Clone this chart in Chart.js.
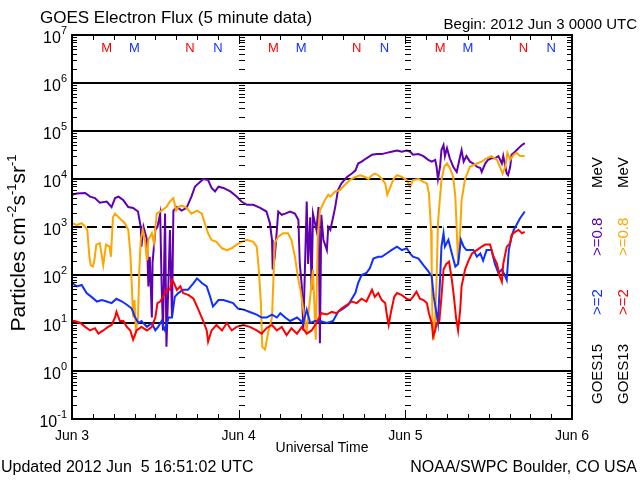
<!DOCTYPE html>
<html>
<head>
<meta charset="utf-8">
<script src="https://cdn.jsdelivr.net/npm/chart.js@4.4.0/dist/chart.umd.min.js"></script>
<style>
    html, body { margin: 0; padding: 0; background: #fff; }
</style>
</head>
<body>
<canvas id="fluxChart" width="640" height="480"></canvas>
<script>
// hours since 2012 Jun 3 00:00 UT, flux in particles cm-2 s-1 sr-1
const goes15_08 = [[0,4700],[0.7,5000],[1.9,5100],[2.6,4300],[3.3,4000],[4.0,3200],[5.0,3400],[5.7,2600],[6.2,4000],[6.7,4300],
    [7.4,3600],[8.1,2600],[8.8,2500],[9.5,2100],[9.9,1000],[10.0,390],[10.3,1000],[10.8,540],[11.0,58],[11.2,240],
    [11.5,13],[11.6,180],[12.0,870],[12.3,1000],[12.7,1900],[12.9,68],[13.1,7],[13.4,1900],[13.6,3.2],[13.9,79],
    [14.1,870],[14.4,13],[14.6,2200],[15.1,2600],[15.8,2200],[16.5,2500],[17.2,4300],[17.7,6900],[18.2,8100],[18.9,10000],
    [19.6,9500],[20.1,6500],[20.6,5500],[21.1,6900],[21.8,6500],[22.8,5500],[23.7,4300],[24.4,3400],[25.2,2900],[26.1,2900],
    [27.1,2500],[28.0,2100],[28.5,1200],[28.8,540],[28.9,130],[29.2,240],[29.5,870],[29.7,2100],[30.2,1800],[30.7,1900],
    [31.4,2100],[32.1,1900],[32.6,1400],[32.8,170],[33.1,58],[33.3,7],[33.5,79],[33.8,3400],[34.0,170],[34.3,1600],
    [34.5,49],[34.7,1900],[35.2,870],[35.5,2600],[35.7,3.8],[35.9,1800],[36.2,540],[36.7,330],[36.9,1000],[37.2,870],
    [37.6,1600],[37.9,2600],[38.3,5900],[38.8,8100],[39.6,11000],[40.3,13000],[40.8,15000],[41.2,21000],[41.7,23000],[42.4,27000],
    [43.2,32000],[43.9,33000],[44.6,33000],[45.3,35000],[46.0,37000],[46.8,39000],[47.5,37000],[48.2,39000],[48.7,37000],[49.1,32000],
    [49.9,33000],[50.6,30000],[51.3,25000],[51.8,23000],[52.3,25000],[52.5,18000],[52.7,10000],[53.0,18000],[53.2,40000],[53.5,51000],
    [53.7,30000],[54.0,44000],[54.4,27000],[54.9,18000],[55.4,14000],[55.9,30000],[56.1,40000],[56.4,23000],[56.8,30000],[57.3,23000],
    [57.8,21000],[58.3,18000],[58.8,17000],[59.0,14000],[59.5,21000],[59.9,25000],[60.4,27000],[60.9,27000],[61.4,30000],[61.9,21000],
    [62.1,30000],[62.6,13000],[62.8,12000],[63.1,18000],[63.3,32000],[63.8,37000],[64.3,44000],[64.8,51000],[65.2,56000]];

const goes13_08 = [[0,1200],[0.7,1100],[1.4,1200],[1.9,1000],[2.2,870],[2.5,240],[2.7,160],[3.0,150],[3.2,190],[3.5,430],
    [4.0,460],[4.5,160],[4.9,430],[5.4,390],[5.6,240],[5.9,1600],[6.2,1900],[6.9,1500],[7.6,1200],[8.1,870],
    [8.4,280],[8.6,68],[8.8,13],[9.0,30],[9.2,7],[9.5,13],[9.7,130],[9.9,540],[10.2,870],[10.5,540],
    [10.8,200],[11.0,540],[11.5,740],[11.8,460],[12.2,1900],[12.9,2200],[13.6,2600],[14.1,3400],[14.6,4000],[15.0,2200],
    [15.3,2600],[15.8,2800],[16.5,2500],[17.2,1900],[18.0,2200],[18.7,1900],[19.2,1100],[19.6,740],[20.1,540],[20.8,490],
    [21.6,360],[22.3,330],[23.0,360],[23.7,430],[24.4,490],[25.2,540],[26.1,490],[26.6,390],[26.9,130],[27.2,26],
    [27.4,3.2],[27.8,2.8],[28.3,7],[28.8,13],[29.0,79],[29.2,460],[29.7,630],[30.4,740],[31.1,740],[31.6,540],
    [32.1,240],[32.6,79],[32.9,49],[33.3,19],[33.8,7],[34.3,35],[34.7,130],[35.1,4.5],[35.4,630],[35.7,2200],
    [36.4,3600],[36.9,4700],[37.2,4300],[37.9,5500],[38.6,5900],[39.3,7600],[40.0,9500],[40.8,11000],[41.5,12000],[42.2,11000],
    [42.7,10000],[43.2,12000],[43.6,13000],[44.1,12000],[44.6,10000],[45.1,8100],[45.4,4700],[45.8,6500],[46.3,10000],[46.8,12000],
    [47.5,11000],[48.2,9500],[48.7,6900],[49.1,9500],[49.9,10000],[50.6,8700],[51.1,8100],[51.4,5000],[51.7,870],[51.8,130],
    [51.9,13],[52.1,4.5],[52.3,13],[52.5,79],[52.7,1200],[53.0,4300],[53.2,9500],[53.6,18000],[54.0,21000],[54.4,17000],
    [54.9,11000],[55.2,4300],[55.4,870],[55.6,170],[55.9,870],[56.1,3600],[56.6,10000],[57.3,18000],[58.3,21000],[59.0,23000],
    [59.7,27000],[60.4,30000],[61.2,25000],[61.6,18000],[62.0,13000],[62.4,18000],[62.7,35000],[63.1,25000],[63.6,32000],[64.0,35000],
    [64.5,30000],[65.2,30000]];

const goes15_2 = [[0,68],[0.7,58],[1.4,62],[2.1,42],[2.8,35],[3.6,28],[4.3,30],[5.0,28],[5.7,26],[6.4,32],
    [7.2,28],[7.9,24],[8.6,20],[9.1,13],[9.6,10],[10.0,11],[10.8,8.3],[11.5,10],[12.0,7],[12.4,8.3],
    [12.9,11],[13.4,7],[13.9,13],[14.4,13],[14.8,35],[15.3,42],[16.0,49],[16.7,49],[17.5,68],[18.0,85],
    [18.7,68],[19.4,58],[19.9,35],[20.3,22],[21.1,30],[21.8,30],[22.5,28],[23.2,26],[23.9,20],[24.7,19],
    [25.6,17],[26.6,15],[27.3,13],[28.0,13],[28.8,15],[29.5,13],[30.0,16],[30.7,13],[31.4,11],[32.4,13],
    [33.3,10],[33.8,19],[34.3,10],[35.0,11],[35.7,11],[36.7,10],[37.6,11],[38.3,17],[39.1,20],[39.8,24],
    [40.3,32],[40.8,42],[41.2,68],[41.7,100],[42.4,110],[42.9,140],[43.4,220],[44.1,240],[44.6,240],[45.3,280],
    [46.0,330],[46.8,390],[47.5,330],[48.2,360],[48.7,280],[49.1,240],[49.9,220],[50.6,160],[51.3,120],[51.8,93],
    [52.1,35],[52.4,19],[52.7,10],[53.0,79],[53.2,390],[53.5,740],[53.7,390],[54.2,540],[54.7,280],[55.2,150],
    [55.6,170],[56.0,540],[56.4,390],[56.8,330],[57.3,330],[57.8,330],[58.3,240],[58.8,280],[59.2,200],[59.7,330],
    [60.4,330],[60.9,170],[61.4,110],[61.9,130],[62.4,93],[62.6,79],[62.9,330],[63.2,540],[63.6,870],[64.0,1100],
    [64.5,1500],[65.2,2100]];

const goes13_2 = [[0,11],[0.4,11],[1.2,10],[1.9,8.3],[2.6,7],[3.3,7.8],[3.8,6],[4.5,7],[5.2,8.3],[5.7,9.1],
    [6.2,13],[6.4,17],[6.9,11],[7.4,11],[7.9,8.3],[8.4,7],[8.8,4.5],[9.3,7],[10.0,8.3],[10.8,7],
    [11.5,8.3],[12.0,13],[12.3,26],[12.7,28],[13.1,35],[13.6,49],[14.1,49],[14.4,79],[14.7,68],[15.1,49],
    [15.6,58],[16.0,42],[16.8,38],[17.5,32],[18.2,19],[18.9,11],[19.4,7],[19.6,4.1],[20.1,7],[20.8,9.1],
    [21.6,7],[22.3,10],[23.0,7],[23.7,8.3],[24.7,9.1],[25.6,8.3],[26.6,7],[27.3,6],[28.0,7.8],[28.8,9.1],
    [29.5,7],[30.2,8.3],[30.9,5.6],[31.6,7.8],[32.4,6],[33.1,8.3],[33.8,6],[34.5,7],[35.2,10],[35.9,16],
    [36.7,15],[37.4,17],[38.1,16],[38.8,20],[39.6,24],[40.3,28],[41.0,26],[41.7,32],[42.4,28],[43.2,49],
    [43.6,35],[44.1,42],[44.6,30],[45.1,26],[45.4,13],[45.6,9.1],[45.9,16],[46.4,35],[46.8,42],[47.5,38],
    [48.2,32],[48.7,30],[49.1,35],[49.6,45],[50.1,32],[50.6,30],[51.1,26],[51.4,16],[51.8,10],[52.0,5.2],
    [52.3,7],[52.5,10],[52.9,11],[53.2,35],[53.5,130],[53.9,170],[54.3,190],[54.7,79],[55.0,35],[55.3,13],
    [55.6,7],[55.9,19],[56.1,58],[56.6,130],[57.1,200],[57.6,280],[58.3,330],[59.0,390],[59.5,430],[60.2,430],
    [60.7,240],[61.2,170],[61.6,93],[61.9,72],[62.1,170],[62.6,390],[63.1,460],[63.3,690],[63.8,790],[64.3,870],
    [64.8,740],[65.2,790]];

const decades = [0.1, 1, 10, 100, 1e3, 1e4, 1e5, 1e6, 1e7];
const dayHours = [0, 24, 48, 72];
const dayLabels = ["Jun 3", "Jun 4", "Jun 5", "Jun 6"];

// local midnight (M) and noon (N) for each satellite
const markerHours = [5, 9, 17, 21, 29, 33, 41, 45, 53, 57, 65, 69];
const markerLabels = ["M", "M", "N", "N", "M", "M", "N", "N", "M", "M", "N", "N"];
const markerSats = ["13", "15", "13", "15", "13", "15", "13", "15", "13", "15", "13", "15"];

const FONT = '"Liberation Sans", Arial, "DejaVu Sans", sans-serif';
const colors = {
    g15_08: "#6000b0",
    g13_08: "#ffa500",
    g15_2: "#1030ff",
    g13_2: "#ff0000"
};
const satColor = { "13": "#ff0000", "15": "#1030ff" };

function toPoints(series) {
    return series.map(p => ({ x: p[0], y: p[1] }));
}

// text with superscript pieces, drawn left to right from (x, y) baseline
function drawMixed(ctx, parts, x, y, big, small, align) {
    let total = 0;
    parts.forEach(p => {
        ctx.font = (p[1] ? small : big) + "px " + FONT;
        total += ctx.measureText(p[0]).width;
    });
    let cx = align === "center" ? x - total / 2 : x;
    parts.forEach(p => {
        ctx.font = (p[1] ? small : big) + "px " + FONT;
        ctx.fillText(p[0], cx, p[1] ? y - big * 0.45 : y);
        cx += ctx.measureText(p[0]).width;
    });
}

const decor = {
    id: "decor",
    beforeDatasetsDraw(chart) {
        const { ctx, chartArea: a, scales: { y } } = chart;
        ctx.save();
        ctx.strokeStyle = "#000";
        ctx.lineWidth = 2;
        decades.slice(1, -1).forEach(d => {
            const py = Math.round(y.getPixelForValue(d));
            ctx.setLineDash(d === 1e3 ? [10, 5] : []);
            ctx.beginPath();
            ctx.moveTo(a.left, py);
            ctx.lineTo(a.right, py);
            ctx.stroke();
        });
        ctx.restore();
    },
    afterDatasetsDraw(chart) {
        const { ctx, chartArea: a, scales: { x, y } } = chart;
        ctx.save();
        ctx.strokeStyle = "#000";
        ctx.fillStyle = "#000";

        // frame
        ctx.lineWidth = 2;
        ctx.strokeRect(a.left, a.top, a.right - a.left, a.bottom - a.top);

        // minor log ticks on left, right and day boundaries
        ctx.lineWidth = 1;
        const minors = [];
        decades.slice(0, -1).forEach(d => {
            for (let k = 2; k <= 9; k++) minors.push(k * d);
        });
        const inner = dayHours.slice(1, -1).map(h => Math.round(x.getPixelForValue(h)));
        minors.forEach(v => {
            const py = Math.round(y.getPixelForValue(v)) + 0.5;
            ctx.beginPath();
            ctx.moveTo(a.left, py); ctx.lineTo(a.left + 5, py);
            ctx.moveTo(a.right - 5, py); ctx.lineTo(a.right, py);
            inner.forEach(px => { ctx.moveTo(px, py); ctx.lineTo(px + 6, py); });
            ctx.stroke();
        });

        // time ticks every 3 hours, top and bottom
        for (let h = 3; h < 72; h += 3) {
            const px = Math.round(x.getPixelForValue(h)) + 0.5;
            const len = h % 24 === 0 ? 9 : 5;
            ctx.beginPath();
            ctx.moveTo(px, a.top); ctx.lineTo(px, a.top + len);
            ctx.moveTo(px, a.bottom); ctx.lineTo(px, a.bottom - len);
            ctx.stroke();
        }

        // y tick labels 10^n
        ctx.textBaseline = "alphabetic";
        y.ticks.forEach(t => {
            const py = y.getPixelForValue(t.value);
            const e = String(Math.round(Math.log10(t.value)));
            ctx.textAlign = "right";
            ctx.font = "11px " + FONT;
            ctx.fillText(e, 67, py - 1);
            const w = ctx.measureText(e).width;
            ctx.font = "16px " + FONT;
            ctx.fillText("10", 67 - w, py + 8);
        });

        // y axis title
        ctx.save();
        ctx.translate(25, 243);
        ctx.rotate(-Math.PI / 2);
        ctx.textAlign = "left";
        drawMixed(ctx, [["Particles cm", false], ["-2", true], ["s", false], ["-1", true], ["sr", false], ["-1", true]],
            0, 0, 21, 13, "center");
        ctx.restore();

        // M / N markers
        ctx.textAlign = "center";
        ctx.textBaseline = "middle";
        ctx.font = "13px " + FONT;
        markerHours.forEach((h, i) => {
            ctx.fillStyle = satColor[markerSats[i]];
            ctx.fillText(markerLabels[i], x.getPixelForValue(h), a.top + 13);
        });

        // right side legend, rotated
        const legendCols = [
            { cx: 602, items: [["GOES15", "#000", 404], [">=2", colors.g15_2, 315], [">=0.8", colors.g15_08, 256], ["MeV", "#000", 188]] },
            { cx: 628, items: [["GOES13", "#000", 404], [">=2", colors.g13_2, 315], [">=0.8", colors.g13_08, 256], ["MeV", "#000", 188]] }
        ];
        ctx.font = "15px " + FONT;
        ctx.textAlign = "left";
        ctx.textBaseline = "alphabetic";
        legendCols.forEach(col => {
            col.items.forEach(it => {
                ctx.save();
                ctx.translate(col.cx, it[2]);
                ctx.rotate(-Math.PI / 2);
                ctx.fillStyle = it[1];
                ctx.fillText(it[0], 0, 0);
                ctx.restore();
            });
        });

        // titles and footers
        ctx.fillStyle = "#000";
        ctx.textBaseline = "middle";
        ctx.textAlign = "left";
        ctx.font = "17px " + FONT;
        ctx.fillText("GOES Electron Flux (5 minute data)", 40, 18);
        ctx.textAlign = "right";
        ctx.font = "15px " + FONT;
        ctx.fillText("Begin: 2012 Jun 3 0000 UTC", 637, 25);
        ctx.textAlign = "center";
        ctx.font = "14px " + FONT;
        ctx.fillText("Universal Time", (a.left + a.right) / 2, 448);
        ctx.textAlign = "left";
        ctx.font = "16px " + FONT;
        ctx.fillText("Updated 2012 Jun  5 16:51:02 UTC", 1, 468);
        ctx.textAlign = "right";
        ctx.fillText("NOAA/SWPC Boulder, CO USA", 637, 468);
        ctx.restore();
    }
};

function lineSet(label, series, color) {
    return {
        label: label,
        data: toPoints(series),
        borderColor: color,
        backgroundColor: color,
        borderWidth: 2,
        pointRadius: 0,
        tension: 0,
        fill: false
    };
}

new Chart(document.getElementById("fluxChart").getContext("2d"), {
    type: "line",
    data: {
        datasets: [
            lineSet("GOES13 >=2 MeV", goes13_2, colors.g13_2),
            lineSet("GOES15 >=2 MeV", goes15_2, colors.g15_2),
            lineSet("GOES13 >=0.8 MeV", goes13_08, colors.g13_08),
            lineSet("GOES15 >=0.8 MeV", goes15_08, colors.g15_08)
        ]
    },
    options: {
        responsive: false,
        animation: false,
        devicePixelRatio: 1,
        layout: { padding: { top: 35, right: 68, left: 0, bottom: 0 } },
        plugins: {
            legend: { display: false },
            tooltip: { enabled: false }
        },
        scales: {
            x: {
                type: "linear",
                min: 0,
                max: 72,
                grid: { display: false, drawTicks: false },
                border: { display: false },
                afterBuildTicks: s => { s.ticks = dayHours.map(v => ({ value: v })); },
                afterFit: s => { s.height = 61; },
                ticks: {
                    autoSkip: false,
                    maxRotation: 0,
                    padding: 9,
                    color: "#000",
                    font: { family: FONT, size: 14 },
                    callback: (v, i) => dayLabels[i]
                }
            },
            y: {
                type: "logarithmic",
                min: 0.1,
                max: 1e7,
                grid: { display: false, drawTicks: false },
                border: { display: false },
                afterBuildTicks: s => { s.ticks = decades.map(v => ({ value: v })); },
                afterFit: s => { s.width = 72; },
                ticks: { display: false }
            }
        }
    },
    plugins: [decor]
});
</script>
</body>
</html>
